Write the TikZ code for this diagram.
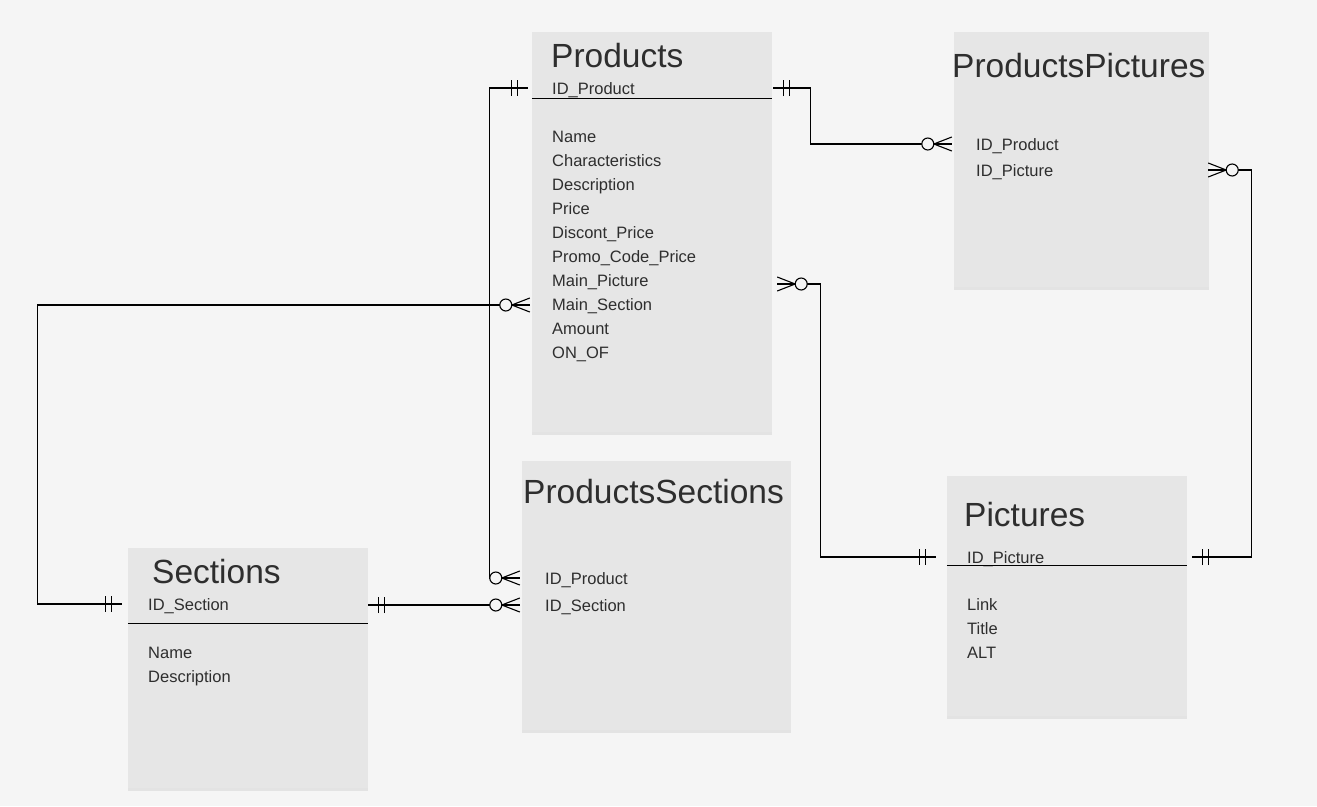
\documentclass[tikz,border=0pt]{standalone}
\usepackage{fontspec}
\setmainfont{Liberation Sans}
\usetikzlibrary{calc,shadows}
\definecolor{bgcol}{HTML}{F5F5F5}
\definecolor{boxcol}{HTML}{E6E6E6}
\definecolor{txtcol}{HTML}{2E2E2E}

\begin{document}
\begin{tikzpicture}[x=1pt,y=-1pt,
    entity/.style={fill=boxcol, inner sep=0pt,
        drop shadow={shadow xshift=0pt, shadow yshift=-3pt, opacity=0.07, fill=black}},
    title/.style={anchor=base west, inner sep=0pt, text=txtcol, font=\fontsize{33.5}{40}\selectfont},
    attr/.style={anchor=base west, inner sep=0pt, text=txtcol, font=\fontsize{16.5}{20}\selectfont},
    link/.style={line width=1.1pt},
    onemand/.pic={\draw[line width=1.1pt] (-10,-8) -- (-10,8) (-16,-8) -- (-16,8);},
    zeromany/.pic={\draw[line width=1.1pt] (-18,0) -- (0,-7) (-18,0) -- (0,7) (-18,0) -- (0,0);
        \draw[line width=1.1pt, fill=bgcol] (-24,0) circle (6);}]

    \fill[bgcol] (0,0) rectangle (1317,806);

    % tables
    \node[entity, minimum width=240pt, minimum height=400pt] (prod) at (652,232) {};
    \node[entity, minimum width=255pt, minimum height=255pt] (pp) at (1081.5,159.5) {};
    \node[entity, minimum width=269pt, minimum height=269pt] (ps) at (656.5,595.5) {};
    \node[entity, minimum width=240pt, minimum height=240pt] (sec) at (248,668) {};
    \node[entity, minimum width=240pt, minimum height=240pt] (pic) at (1067,596) {};

    % Products
    \node[title] (prod-t) at (551,67) {Products};
    \node[attr] (prod-id) at (552,94) {ID\_Product};
    \draw[link] ([yshift=-67pt]prod.north west) -- ([yshift=-67pt]prod.north east);
    \foreach \t [count=\i] in {Name,Characteristics,Description,Price,Discont\_Price,
        Promo\_Code\_Price,Main\_Picture,Main\_Section,Amount,ON\_OF}
        \node[attr] (prod-a\i) at (552,118+24*\i) {\t};

    % ProductsPictures
    \node[title] (pp-t) at (952,77) {ProductsPictures};
    \node[attr] (pp-idprod) at (976,150) {ID\_Product};
    \node[attr] (pp-idpic) at (976,176) {ID\_Picture};

    % ProductsSections
    \node[title] (ps-t) at (523,503) {ProductsSections};
    \node[attr] (ps-id) at (545,584) {ID\_Product};
    \node[attr] (ps-sec) at (545,611) {ID\_Section};

    % Sections
    \node[title] (sec-t) at (152,583) {Sections};
    \node[attr] (sec-id) at (148,610) {ID\_Section};
    \draw[link] ([yshift=-76pt]sec.north west) -- ([yshift=-76pt]sec.north east);
    \node[attr] (sec-a1) at (148,658) {Name};
    \node[attr] (sec-a2) at (148,682) {Description};

    % Pictures
    \node[title] (pic-t) at (964,526) {Pictures};
    \node[attr] (pic-id) at (967,563) {ID\_Picture};
    \draw[link] ([yshift=-90pt]pic.north west) -- ([yshift=-90pt]pic.north east);
    \node[attr] (pic-a1) at (967,610) {Link};
    \node[attr] (pic-a2) at (967,634) {Title};
    \node[attr] (pic-a3) at (967,658) {ALT};

    % end points of the links
    \coordinate (p-l) at ($(prod.west |- prod-id.base)+(-4,-6)$);
    \coordinate (p-r) at ($(prod.east |- prod-id.base)+(1,-6)$);
    \coordinate (p-r2) at ($(prod.east |- prod-a7.base)+(5,-2)$);
    \coordinate (p-l2) at ($(prod.west |- prod-a8.base)+(-2,-5)$);
    \coordinate (pp-l) at ($(pp.west |- pp-idprod.base)+(-2,-6)$);
    \coordinate (pp-r) at ($(pp.east |- pp-idpic.base)+(-1,-6)$);
    \coordinate (ps-l1) at ($(ps.west |- ps-id.base)+(-2,-6)$);
    \coordinate (ps-l2) at ($(ps.west |- ps-sec.base)+(-2,-6)$);
    \coordinate (s-l) at ($(sec.west |- sec-id.base)+(-6,-6)$);
    \coordinate (s-r) at (sec.east |- ps-l2);
    \coordinate (pic-l) at ($(pic.west |- pic-id.base)+(-11,-6)$);
    \coordinate (pic-r) at ($(pic.east |- pic-id.base)+(5,-6)$);

    % links
    \draw[link] (p-l) -- ++(-38,0) |- (ps-l1); % Products - ProductsSections
    \draw[link] (p-r) -- ++(37,0) |- (pp-l); % Products - ProductsPictures
    \draw[link] (pp-r) -- ++(43,0) |- (pic-r); % ProductsPictures - Pictures
    \draw[link] (p-r2) -- ++(43,0) |- (pic-l); % Main_Picture - Pictures
    \draw[link] (s-l) -- ++(-84,0) |- (p-l2); % Sections - Main_Section
    \draw[link] (s-r) -- (ps-l2); % Sections - ProductsSections

    \pic at (p-l) {onemand};
    \pic[rotate=180] at (p-r) {onemand};
    \pic[rotate=180] at (pic-r) {onemand};
    \pic at (pic-l) {onemand};
    \pic at (s-l) {onemand};
    \pic[rotate=180] at (s-r) {onemand};
    \pic at (ps-l1) {zeromany};
    \pic at (ps-l2) {zeromany};
    \pic at (pp-l) {zeromany};
    \pic[rotate=180] at (pp-r) {zeromany};
    \pic[rotate=180] at (p-r2) {zeromany};
    \pic at (p-l2) {zeromany};

\end{tikzpicture}
\end{document}
